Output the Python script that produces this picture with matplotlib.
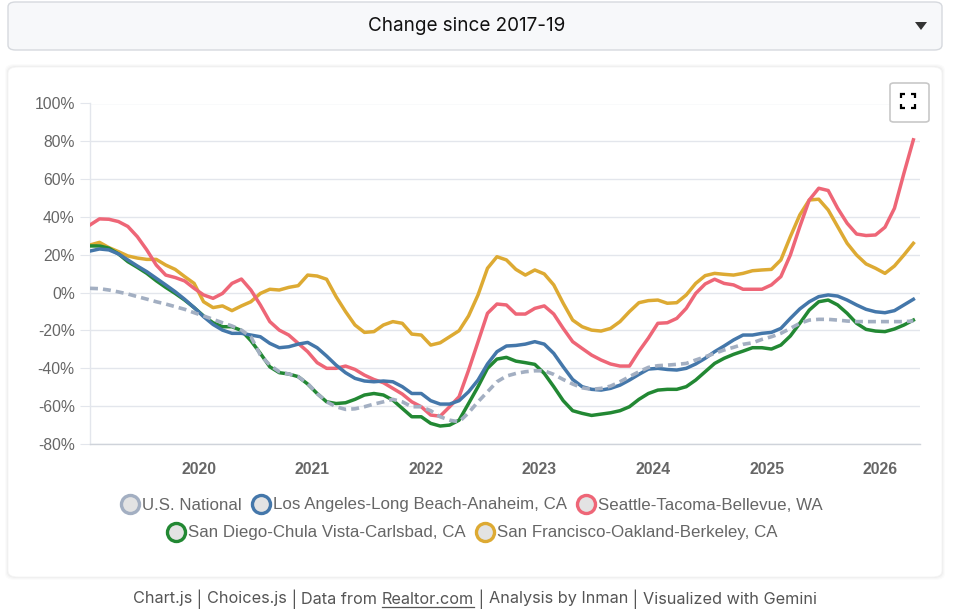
import matplotlib
matplotlib.use("Agg")
import matplotlib.pyplot as plt
from matplotlib.lines import Line2D
from matplotlib.patches import FancyBboxPatch, Polygon
import numpy as np

# ---------------- data ----------------
start_year, start_month, n_months = 2019, 1, 88
months = [f"{start_year + (start_month - 1 + k) // 12}-{(start_month - 1 + k) % 12 + 1:02d}" for k in range(n_months)]

us_national = [2.3, 2.1, 1.4, 0.4, -0.7, -2.1, -3.4, -4.8, -6.0, -7.4, -8.8, -10.6, -12.3, -14.1, -15.9, -17.6, -19.8, -23.3,
               -33.0, -38.3, -41.8, -43.0, -44.4, -48.0, -53.3, -57.7, -60.3, -61.7, -61.4, -60.3, -58.9, -57.7, -56.4, -57.7, -60.3,
               -60.3, -62.4, -65.6, -67.4, -68.3, -63.5, -57.7, -52.4, -47.1, -44.1, -42.7, -41.8, -41.3, -41.3, -43.2, -45.9, -48.3,
               -50.3, -51.1, -50.6, -49.4, -47.1, -44.4, -41.8, -39.5, -38.6, -38.3, -37.9, -37.4, -35.6, -33.9, -32.1, -30.3, -28.9, -27.3,
               -26.5, -24.7, -23.3, -21.5, -18.9, -16.2, -14.5, -14.1, -14.1, -14.5, -15.0, -15.3, -15.3, -15.3, -15.3, -15.3, -15.3, -15.0]

los_angeles = [22.0, 23.1, 22.6, 20.5, 17.3, 14.1, 11.1, 7.6, 4.1, 0.5, -3.5, -7.9, -12.7, -16.8, -19.8, -21.5, -21.5, -22.4,
               -23.3, -26.8, -29.1, -28.6, -27.2, -26.3, -29.1, -33.5, -38.3, -42.3, -45.3, -46.7, -47.1, -46.7, -47.1, -49.7, -53.3,
               -53.3, -57.1, -58.9, -58.9, -57.1, -52.4, -46.2, -37.7, -31.2, -28.2, -27.9, -27.2, -25.9, -27.2, -32.1, -39.2, -45.9,
               -49.7, -51.1, -51.5, -50.6, -48.9, -46.2, -43.2, -40.4, -40.0, -40.6, -40.9, -40.0, -37.7, -34.7, -31.2, -28.2, -25.0, -22.4,
               -22.4, -21.5, -21.0, -18.9, -13.6, -8.6, -4.8, -2.1, -1.2, -1.8, -3.9, -6.5, -8.8, -10.1, -10.6, -9.5, -6.5, -3.5]

seattle = [35.8, 39.0, 38.8, 37.6, 35.0, 29.6, 22.6, 14.6, 9.3, 8.0, 6.2, 2.3, -1.2, -3.0, -0.4, 4.9, 7.2, 1.4,
           -6.5, -15.3, -19.8, -22.4, -26.8, -31.2, -37.0, -40.0, -40.0, -38.8, -40.6, -43.6, -45.9, -47.6, -50.6, -53.6, -57.7,
           -60.3, -64.7, -65.3, -60.3, -55.0, -41.0, -26.0, -10.9, -6.0, -6.5, -11.3, -11.3, -8.3, -7.0, -11.3, -18.9, -25.9,
           -29.5, -33.0, -35.6, -37.7, -38.8, -38.8, -31.0, -24.0, -16.2, -15.9, -13.6, -8.3, -0.4, 4.6, 7.1, 4.9, 4.1, 1.8,
           1.8, 1.8, 4.1, 8.5, 19.9, 34.9, 49.0, 55.2, 54.0, 44.6, 36.7, 31.0, 30.2, 30.5, 34.6, 44.6, 63.1, 80.8]

san_diego = [24.7, 24.7, 23.5, 20.5, 16.4, 13.4, 10.2, 6.3, 2.8, -0.4, -3.9, -7.9, -12.3, -15.9, -18.0, -18.0, -20.0, -25.4,
             -32.1, -39.2, -42.3, -43.0, -44.4, -48.3, -53.3, -57.7, -58.6, -58.2, -56.4, -54.1, -53.3, -54.1, -56.8, -61.2, -65.6,
             -65.6, -69.1, -70.5, -70.0, -67.4, -58.6, -49.7, -40.0, -35.1, -34.2, -36.2, -37.0, -37.9, -42.7, -49.7, -57.1, -62.4,
             -63.8, -64.9, -64.2, -63.5, -62.4, -60.3, -56.4, -53.3, -51.5, -51.1, -51.1, -49.7, -46.2, -41.8, -37.4, -34.7, -32.6, -30.9,
             -29.1, -29.1, -29.8, -27.7, -22.9, -16.2, -9.2, -4.8, -3.9, -6.5, -10.9, -16.2, -19.4, -20.3, -20.6, -19.2, -17.1, -14.5]

san_francisco = [25.2, 26.6, 23.8, 21.7, 19.4, 18.3, 17.6, 17.6, 14.6, 12.3, 8.5, 4.9, -4.8, -7.9, -7.0, -9.5, -7.0, -4.8,
                 -0.4, 1.8, 1.4, 2.8, 3.7, 9.3, 8.8, 7.1, -2.1, -10.0, -17.1, -21.0, -20.6, -17.1, -15.3, -16.2, -21.9,
                 -22.4, -27.7, -26.5, -23.3, -20.1, -12.3, -1.2, 12.9, 19.0, 17.3, 12.3, 9.3, 12.0, 9.9, 4.1, -5.6, -14.5,
                 -18.0, -19.8, -20.3, -18.9, -15.3, -10.0, -5.3, -4.2, -3.9, -5.6, -5.3, -1.2, 4.9, 9.0, 10.2, 9.7, 9.3, 10.2,
                 11.6, 12.0, 12.3, 17.3, 29.6, 41.1, 49.0, 49.4, 43.7, 34.9, 26.1, 19.9, 15.2, 12.9, 10.2, 14.1, 19.9, 26.1]

series_names = ["U.S. National", "Los Angeles-Long Beach-Anaheim, CA", "Seattle-Tacoma-Bellevue, WA",
                "San Diego-Chula Vista-Carlsbad, CA", "San Francisco-Oakland-Berkeley, CA"]
series_values = [us_national, los_angeles, seattle, san_diego, san_francisco]
series_colors = ["#a3afc2", "#4477aa", "#ee6677", "#228833", "#ddaa33"]

year_ticks = [2020, 2021, 2022, 2023, 2024, 2025, 2026]
y_ticks = [-80, -60, -40, -20, 0, 20, 40, 60, 80, 100]

title_text = "Change since 2017-19"

# ---------------- figure ----------------
W, H = 954, 615
fig = plt.figure(figsize=(W / 100, H / 100), dpi=100)
fig.patch.set_facecolor("white")

def fx(x):
    return x / W

def fy(y):
    return 1 - y / H

# dropdown box
fig.patches.append(FancyBboxPatch((fx(8), fy(50)), fx(942) - fx(8), fy(2) - fy(50),
                                  boxstyle="round,pad=0,rounding_size=0.008", transform=fig.transFigure,
                                  facecolor="#f7f8fa", edgecolor="#d6d9de", linewidth=1.0, zorder=-2))
fig.text(fx(467), fy(26), title_text, ha="center", va="center", fontsize=13.6,
         family=["Inter", "DejaVu Sans"], color="#111111")
fig.patches.append(Polygon([[fx(915), fy(22)], [fx(927), fy(22)], [fx(921), fy(30)]], closed=True,
                           transform=fig.transFigure, facecolor="#333333", edgecolor="none", zorder=-1))

# card with faint shadow
for off, alpha in [(3, 0.015), (2, 0.02), (1, 0.03)]:
    fig.patches.append(FancyBboxPatch((fx(8 - off), fy(577 + off)), fx(942 + off) - fx(8 - off), fy(67 - off) - fy(577 + off),
                                      boxstyle="round,pad=0,rounding_size=0.01", transform=fig.transFigure,
                                      facecolor=(0, 0, 0, alpha), edgecolor="none", zorder=-3))
fig.patches.append(FancyBboxPatch((fx(8), fy(577)), fx(942) - fx(8), fy(67) - fy(577),
                                  boxstyle="round,pad=0,rounding_size=0.01", transform=fig.transFigure,
                                  facecolor="white", edgecolor="#f4f4f4", linewidth=0.6, zorder=-2))

# fullscreen button
fig.patches.append(FancyBboxPatch((fx(890), fy(122)), fx(929) - fx(890), fy(83) - fy(122),
                                  boxstyle="round,pad=0,rounding_size=0.004", transform=fig.transFigure,
                                  facecolor="white", edgecolor="#c8c8c8", linewidth=1.2, zorder=3))
cx, cy, s, L = 908, 101, 7, 4
for sx in (-1, 1):
    for sy in (-1, 1):
        px, py = cx + sx * s, cy + sy * s
        fig.lines.append(Line2D([fx(px - sx * L), fx(px), fx(px)], [fy(py), fy(py), fy(py - sy * L)],
                                transform=fig.transFigure, color="black", linewidth=1.6,
                                solid_joinstyle="miter", solid_capstyle="butt", zorder=4))

# ---------------- plot ----------------
ax = fig.add_axes([fx(90), fy(444), fx(920) - fx(90), fy(103.5) - fy(444)])
ax.set_zorder(1)
ax.patch.set_alpha(0)
xpos = np.array([int(m[:4]) + (int(m[5:]) - 0.5) / 12 for m in months])

for k in reversed(range(len(series_values))):
    vals = np.array(series_values[k])
    if k == 0:
        ax.plot(xpos, vals, color=series_colors[k], lw=2.6, dashes=(2.2, 1.4), zorder=10 - k,
                dash_capstyle="butt")
    else:
        ax.plot(xpos, vals, color=series_colors[k], lw=2.5, zorder=10 - k, solid_joinstyle="round")

ax.set_xlim(xpos[0], xpos[-1] + 0.7 / 12)
ax.set_ylim(-80, 100)
ax.set_yticks(y_ticks)
ax.set_yticklabels([f"{v}%" for v in y_ticks])
ax.set_xticks(year_ticks)
ax.set_xticklabels([str(y) for y in year_ticks])
ax.grid(axis="y", color="#e3e6ec", linewidth=1.0)
ax.set_axisbelow(True)
for side in ("top", "right"):
    ax.spines[side].set_visible(False)
ax.spines["left"].set_color("#e3e6ec")
ax.spines["bottom"].set_color("#cfd3da")
ax.spines["left"].set_linewidth(1.0)
ax.spines["bottom"].set_linewidth(1.0)
ax.tick_params(axis="y", length=7, color="#e3e6ec", pad=4, labelsize=11.3, labelcolor="#666666")
ax.tick_params(axis="x", length=0, pad=13, labelsize=11.3, labelcolor="#666666")
for t in ax.get_yticklabels():
    t.set_family(["Liberation Sans", "DejaVu Sans"])
for t in ax.get_xticklabels():
    t.set_family(["Liberation Sans", "DejaVu Sans"])
    t.set_fontweight("bold")

# legend (two centred rows)
def handle(c):
    return Line2D([], [], linestyle="none", marker="o", markersize=13, markerfacecolor="#e3e3e3",
                  markeredgecolor=c, markeredgewidth=2.4)

leg_kw = dict(frameon=False, handlelength=1.2, handletextpad=0.1, columnspacing=0.55,
              prop={"family": ["Liberation Sans", "DejaVu Sans"], "size": 12.2}, labelcolor="#666666",
              loc="center", borderpad=0, borderaxespad=0)
fig.legend([handle(c) for c in series_colors[:3]], series_names[:3], ncol=3,
           bbox_to_anchor=(fx(471), fy(505)), **leg_kw)
fig.legend([handle(c) for c in series_colors[3:]], series_names[3:], ncol=2,
           bbox_to_anchor=(fx(472), fy(533)), **leg_kw)

# footer
fig.canvas.draw()
renderer = fig.canvas.get_renderer()
ffam = ["Inter", "DejaVu Sans"]
fsize = 11.7
pieces = [("Chart.js", False), (" | ", False), ("Choices.js", False), (" | ", False), ("Data from ", False),
          ("Realtor.com", True), (" | ", False), ("Analysis by Inman", False), (" | ", False), ("Visualized with Gemini", False)]
texts = []
widths = []
for txt, ul in pieces:
    t = fig.text(0, fy(599), txt, ha="left", va="center", fontsize=fsize, family=ffam, color="#555555")
    bb = t.get_window_extent(renderer)
    texts.append((t, ul))
    widths.append(bb.width)
total = sum(widths)
x0 = 475 - total / 2
for (t, ul), w in zip(texts, widths):
    t.set_x(fx(x0))
    if ul:
        fig.lines.append(Line2D([fx(x0), fx(x0 + w)], [fy(607), fy(607)], transform=fig.transFigure,
                                color="#555555", linewidth=0.9))
    x0 += w

fig.savefig("out.png", dpi=100, facecolor="white")
